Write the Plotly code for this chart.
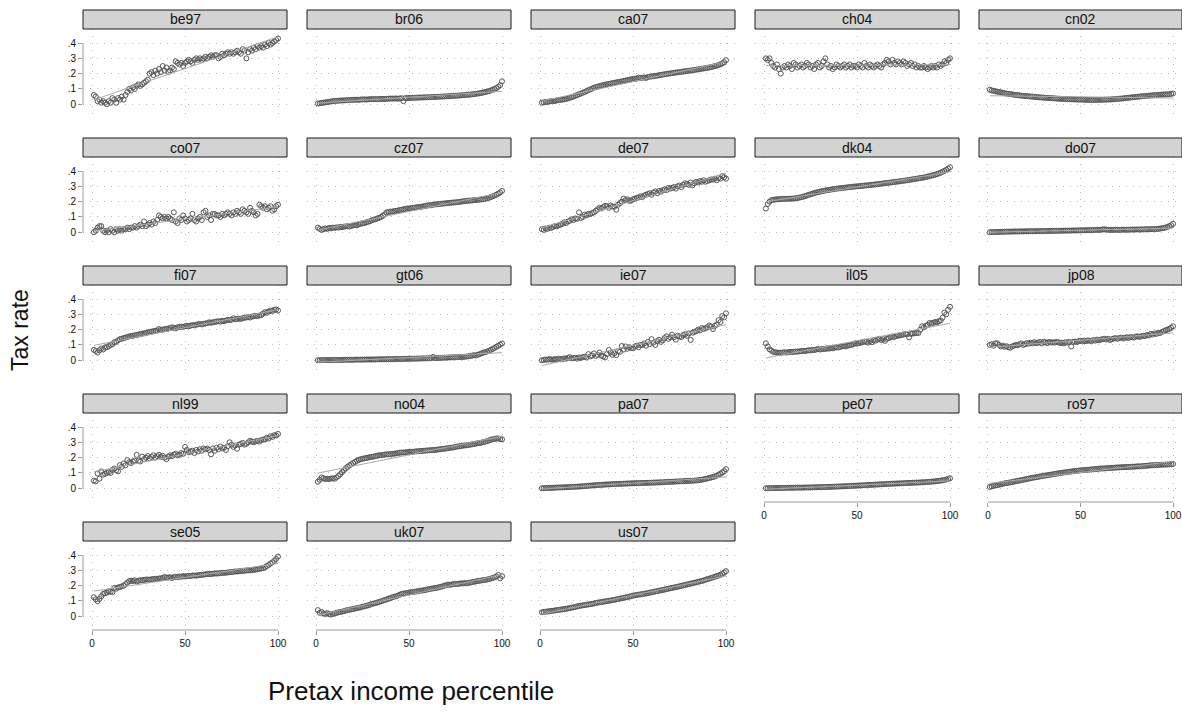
"""Tax rate by pretax income percentile, one small panel per country-year (Stata-style by() graph)."""

import numpy as np
import plotly.graph_objects as go

W, H = 1182, 723

# x values: pretax income percentile
PCTL = list(range(1, 101))

PANELS = ["be97", "br06", "ca07", "ch04", "cn02",
          "co07", "cz07", "de07", "dk04", "do07",
          "fi07", "gt06", "ie07", "il05", "jp08",
          "nl99", "no04", "pa07", "pe07", "ro97",
          "se05", "uk07", "us07"]

Y_TICKS = [0, 0.1, 0.2, 0.3, 0.4]
Y_TICK_TEXT = ["0", ".1", ".2", ".3", ".4"]
X_TICKS = [0, 50, 100]

# tax rate at each percentile
be97 = [0.06, 0.05, 0.02, 0.03, 0.01, 0.02, 0.01, 0.00, 0.02, 0.01,
        0.04, 0.03, 0.01, 0.04, 0.03, 0.05, 0.03, 0.06, 0.08, 0.10,
        0.09, 0.11, 0.10, 0.12, 0.13, 0.12, 0.13, 0.14, 0.15, 0.16,
        0.20, 0.21, 0.19, 0.22, 0.20, 0.23, 0.21, 0.25, 0.22, 0.24,
        0.21, 0.22, 0.24, 0.23, 0.28, 0.27, 0.26, 0.27, 0.25, 0.27,
        0.28, 0.29, 0.28, 0.27, 0.29, 0.30, 0.29, 0.30, 0.29, 0.30,
        0.31, 0.30, 0.31, 0.32, 0.31, 0.32, 0.32, 0.30, 0.31, 0.33,
        0.32, 0.33, 0.34, 0.33, 0.34, 0.33, 0.34, 0.35, 0.34, 0.33,
        0.36, 0.35, 0.30, 0.34, 0.36, 0.35, 0.37, 0.36, 0.38, 0.37,
        0.38, 0.37, 0.39, 0.38, 0.40, 0.39, 0.40, 0.41, 0.42, 0.43]

br06 = [0.005, 0.006, 0.008, 0.010, 0.012, 0.014, 0.016, 0.018, 0.020, 0.021,
        0.022, 0.023, 0.024, 0.025, 0.025, 0.026, 0.027, 0.027, 0.028, 0.029,
        0.029, 0.030, 0.028, 0.031, 0.031, 0.032, 0.030, 0.032, 0.033, 0.033,
        0.033, 0.034, 0.032, 0.034, 0.035, 0.035, 0.033, 0.036, 0.036, 0.037,
        0.037, 0.037, 0.038, 0.036, 0.038, 0.039, 0.020, 0.040, 0.040, 0.041,
        0.041, 0.042, 0.042, 0.043, 0.043, 0.044, 0.044, 0.045, 0.045, 0.046,
        0.046, 0.047, 0.047, 0.048, 0.048, 0.049, 0.050, 0.050, 0.051, 0.052,
        0.052, 0.053, 0.054, 0.055, 0.055, 0.056, 0.057, 0.058, 0.059, 0.060,
        0.061, 0.062, 0.063, 0.065, 0.066, 0.068, 0.070, 0.072, 0.074, 0.077,
        0.080, 0.083, 0.086, 0.090, 0.095, 0.100, 0.106, 0.114, 0.125, 0.150]

ca07 = [0.010, 0.012, 0.015, 0.014, 0.018, 0.020, 0.022, 0.021, 0.025, 0.027,
        0.028, 0.030, 0.032, 0.035, 0.038, 0.042, 0.046, 0.050, 0.055, 0.060,
        0.065, 0.070, 0.075, 0.080, 0.086, 0.092, 0.097, 0.102, 0.108, 0.112,
        0.115, 0.118, 0.122, 0.125, 0.128, 0.130, 0.133, 0.135, 0.138, 0.140,
        0.143, 0.145, 0.147, 0.150, 0.152, 0.155, 0.158, 0.160, 0.163, 0.165,
        0.166, 0.168, 0.174, 0.172, 0.173, 0.175, 0.172, 0.178, 0.180, 0.182,
        0.183, 0.185, 0.187, 0.190, 0.192, 0.194, 0.196, 0.198, 0.200, 0.201,
        0.203, 0.205, 0.207, 0.209, 0.210, 0.212, 0.214, 0.215, 0.217, 0.219,
        0.220, 0.222, 0.224, 0.226, 0.228, 0.230, 0.232, 0.234, 0.236, 0.238,
        0.240, 0.243, 0.246, 0.249, 0.252, 0.256, 0.261, 0.267, 0.275, 0.288]

ch04 = [0.30, 0.29, 0.30, 0.27, 0.25, 0.24, 0.26, 0.23, 0.20, 0.24,
        0.25, 0.24, 0.26, 0.25, 0.23, 0.27, 0.26, 0.24, 0.25, 0.26,
        0.24, 0.25, 0.27, 0.26, 0.24, 0.25, 0.23, 0.26, 0.27, 0.24,
        0.25, 0.28, 0.30, 0.26, 0.24, 0.25, 0.23, 0.24, 0.26, 0.25,
        0.24, 0.25, 0.26, 0.24, 0.25, 0.26, 0.24, 0.25, 0.25, 0.24,
        0.26, 0.25, 0.24, 0.27, 0.25, 0.24, 0.26, 0.25, 0.24, 0.25,
        0.26, 0.25, 0.24, 0.26, 0.27, 0.29, 0.28, 0.26, 0.29, 0.27,
        0.26, 0.28, 0.27, 0.26, 0.28, 0.27, 0.25, 0.26, 0.27, 0.25,
        0.26, 0.24, 0.25, 0.24, 0.24, 0.25, 0.24, 0.23, 0.24, 0.25,
        0.24, 0.25, 0.24, 0.26, 0.25, 0.26, 0.28, 0.27, 0.29, 0.30]

cn02 = [0.095, 0.090, 0.088, 0.085, 0.082, 0.080, 0.078, 0.075, 0.072, 0.070,
        0.068, 0.066, 0.065, 0.062, 0.060, 0.060, 0.058, 0.056, 0.055, 0.054,
        0.053, 0.052, 0.050, 0.050, 0.048, 0.047, 0.046, 0.045, 0.044, 0.043,
        0.042, 0.041, 0.040, 0.040, 0.039, 0.038, 0.037, 0.036, 0.036, 0.035,
        0.034, 0.034, 0.033, 0.033, 0.032, 0.032, 0.031, 0.031, 0.030, 0.030,
        0.030, 0.029, 0.029, 0.029, 0.028, 0.028, 0.028, 0.028, 0.028, 0.029,
        0.029, 0.029, 0.030, 0.030, 0.031, 0.031, 0.032, 0.033, 0.034, 0.035,
        0.036, 0.037, 0.038, 0.040, 0.041, 0.042, 0.044, 0.045, 0.046, 0.048,
        0.049, 0.050, 0.052, 0.053, 0.054, 0.055, 0.056, 0.057, 0.058, 0.059,
        0.060, 0.061, 0.062, 0.063, 0.064, 0.064, 0.065, 0.066, 0.068, 0.070]

co07 = [0.00, 0.01, 0.03, 0.04, 0.04, 0.01, 0.00, 0.01, 0.00, 0.02,
        0.01, 0.00, 0.02, 0.01, 0.02, 0.01, 0.02, 0.02, 0.03, 0.02,
        0.03, 0.03, 0.04, 0.03, 0.04, 0.05, 0.04, 0.07, 0.04, 0.05,
        0.06, 0.05, 0.07, 0.06, 0.08, 0.11, 0.10, 0.09, 0.10, 0.09,
        0.10, 0.09, 0.08, 0.13, 0.07, 0.06, 0.09, 0.08, 0.11, 0.09,
        0.07, 0.08, 0.09, 0.12, 0.08, 0.07, 0.09, 0.10, 0.08, 0.13,
        0.14, 0.10, 0.11, 0.08, 0.12, 0.12, 0.11, 0.11, 0.10, 0.12,
        0.11, 0.12, 0.13, 0.12, 0.11, 0.13, 0.12, 0.14, 0.13, 0.12,
        0.15, 0.14, 0.13, 0.12, 0.16, 0.14, 0.13, 0.11, 0.12, 0.18,
        0.17, 0.16, 0.17, 0.15, 0.16, 0.17, 0.14, 0.15, 0.17, 0.18]

cz07 = [0.030, 0.022, 0.015, 0.020, 0.025, 0.022, 0.028, 0.025, 0.030, 0.028,
        0.032, 0.030, 0.035, 0.033, 0.036, 0.038, 0.040, 0.037, 0.042, 0.045,
        0.047, 0.045, 0.052, 0.055, 0.058, 0.060, 0.065, 0.068, 0.072, 0.078,
        0.082, 0.085, 0.090, 0.095, 0.100, 0.108, 0.118, 0.130, 0.132, 0.135,
        0.135, 0.138, 0.140, 0.142, 0.145, 0.147, 0.150, 0.152, 0.155, 0.155,
        0.158, 0.160, 0.160, 0.163, 0.165, 0.165, 0.168, 0.170, 0.172, 0.175,
        0.176, 0.177, 0.180, 0.182, 0.183, 0.185, 0.185, 0.187, 0.188, 0.190,
        0.191, 0.192, 0.193, 0.195, 0.195, 0.197, 0.198, 0.200, 0.202, 0.204,
        0.205, 0.206, 0.207, 0.208, 0.210, 0.210, 0.212, 0.213, 0.215, 0.216,
        0.218, 0.222, 0.225, 0.230, 0.235, 0.240, 0.245, 0.252, 0.260, 0.270]

de07 = [0.020, 0.015, 0.025, 0.022, 0.030, 0.028, 0.035, 0.040, 0.038, 0.045,
        0.050, 0.055, 0.065, 0.060, 0.070, 0.075, 0.085, 0.080, 0.090, 0.088,
        0.130, 0.093, 0.100, 0.115, 0.110, 0.120, 0.118, 0.125, 0.130, 0.140,
        0.150, 0.160, 0.155, 0.165, 0.173, 0.170, 0.160, 0.175, 0.168, 0.167,
        0.147, 0.180, 0.190, 0.200, 0.220, 0.210, 0.215, 0.205, 0.207, 0.215,
        0.220, 0.225, 0.227, 0.235, 0.230, 0.240, 0.245, 0.250, 0.255, 0.245,
        0.260, 0.267, 0.255, 0.270, 0.265, 0.275, 0.280, 0.275, 0.290, 0.285,
        0.290, 0.295, 0.285, 0.300, 0.305, 0.295, 0.310, 0.320, 0.315, 0.310,
        0.325, 0.307, 0.320, 0.330, 0.325, 0.335, 0.330, 0.340, 0.330, 0.335,
        0.340, 0.345, 0.344, 0.350, 0.340, 0.355, 0.350, 0.367, 0.360, 0.350]

dk04 = [0.155, 0.185, 0.200, 0.210, 0.212, 0.214, 0.215, 0.216, 0.217, 0.218,
        0.218, 0.218, 0.219, 0.219, 0.220, 0.220, 0.222, 0.224, 0.226, 0.229,
        0.232, 0.236, 0.240, 0.244, 0.248, 0.252, 0.256, 0.259, 0.262, 0.265,
        0.268, 0.270, 0.273, 0.275, 0.277, 0.279, 0.281, 0.283, 0.285, 0.286,
        0.288, 0.289, 0.291, 0.292, 0.294, 0.295, 0.296, 0.298, 0.299, 0.300,
        0.301, 0.302, 0.303, 0.305, 0.306, 0.307, 0.309, 0.310, 0.311, 0.313,
        0.314, 0.316, 0.317, 0.319, 0.320, 0.322, 0.323, 0.325, 0.327, 0.328,
        0.330, 0.331, 0.333, 0.335, 0.336, 0.338, 0.340, 0.342, 0.344, 0.346,
        0.348, 0.350, 0.352, 0.354, 0.356, 0.358, 0.361, 0.364, 0.367, 0.370,
        0.373, 0.376, 0.380, 0.384, 0.389, 0.395, 0.401, 0.408, 0.416, 0.425]

do07 = [0.000, 0.001, 0.001, 0.002, 0.002, 0.002, 0.003, 0.003, 0.003, 0.004,
        0.004, 0.004, 0.004, 0.005, 0.005, 0.005, 0.005, 0.006, 0.005, 0.006,
        0.006, 0.006, 0.007, 0.006, 0.007, 0.007, 0.007, 0.008, 0.007, 0.008,
        0.008, 0.008, 0.009, 0.008, 0.009, 0.009, 0.010, 0.009, 0.010, 0.010,
        0.010, 0.011, 0.010, 0.011, 0.011, 0.012, 0.011, 0.012, 0.012, 0.013,
        0.012, 0.013, 0.013, 0.014, 0.013, 0.014, 0.014, 0.015, 0.016, 0.015,
        0.016, 0.018, 0.020, 0.017, 0.016, 0.015, 0.016, 0.015, 0.016, 0.016,
        0.015, 0.016, 0.017, 0.016, 0.017, 0.016, 0.017, 0.018, 0.017, 0.018,
        0.018, 0.017, 0.019, 0.018, 0.019, 0.020, 0.019, 0.020, 0.021, 0.020,
        0.021, 0.022, 0.024, 0.026, 0.028, 0.031, 0.035, 0.040, 0.046, 0.055]

fi07 = [0.068, 0.060, 0.050, 0.065, 0.077, 0.070, 0.083, 0.085, 0.092, 0.100,
        0.105, 0.118, 0.120, 0.130, 0.138, 0.140, 0.145, 0.148, 0.152, 0.156,
        0.158, 0.160, 0.163, 0.165, 0.168, 0.171, 0.174, 0.176, 0.178, 0.182,
        0.185, 0.187, 0.190, 0.192, 0.195, 0.204, 0.198, 0.200, 0.203, 0.205,
        0.207, 0.210, 0.215, 0.212, 0.208, 0.215, 0.218, 0.220, 0.218, 0.222,
        0.225, 0.222, 0.226, 0.230, 0.228, 0.232, 0.235, 0.237, 0.234, 0.238,
        0.240, 0.243, 0.248, 0.245, 0.248, 0.250, 0.253, 0.255, 0.252, 0.258,
        0.255, 0.260, 0.264, 0.262, 0.265, 0.275, 0.268, 0.270, 0.272, 0.270,
        0.275, 0.278, 0.279, 0.282, 0.279, 0.285, 0.288, 0.290, 0.289, 0.292,
        0.295, 0.305, 0.314, 0.310, 0.318, 0.325, 0.322, 0.330, 0.332, 0.325]

gt06 = [0.000, 0.000, 0.000, 0.001, 0.001, 0.001, 0.001, 0.001, 0.002, 0.002,
        0.002, 0.002, 0.002, 0.002, 0.003, 0.003, 0.003, 0.003, 0.003, 0.003,
        0.004, 0.004, 0.004, 0.004, 0.004, 0.004, 0.005, 0.005, 0.005, 0.005,
        0.005, 0.005, 0.006, 0.006, 0.006, 0.006, 0.006, 0.007, 0.007, 0.007,
        0.007, 0.007, 0.008, 0.008, 0.008, 0.008, 0.009, 0.009, 0.009, 0.010,
        0.010, 0.010, 0.010, 0.011, 0.011, 0.011, 0.012, 0.012, 0.012, 0.013,
        0.013, 0.014, 0.022, 0.014, 0.015, 0.015, 0.016, 0.016, 0.017, 0.017,
        0.018, 0.018, 0.019, 0.019, 0.020, 0.020, 0.021, 0.021, 0.022, 0.023,
        0.024, 0.026, 0.028, 0.030, 0.033, 0.031, 0.036, 0.040, 0.045, 0.050,
        0.053, 0.057, 0.062, 0.068, 0.074, 0.080, 0.088, 0.095, 0.102, 0.110]

ie07 = [0.000, 0.002, 0.005, 0.003, 0.008, 0.005, 0.004, 0.007, 0.005, 0.010,
        0.006, 0.008, 0.012, 0.010, 0.015, 0.020, 0.012, 0.014, 0.016, 0.010,
        0.018, 0.015, 0.020, 0.022, 0.018, 0.040, 0.025, 0.030, 0.045, 0.028,
        0.035, 0.050, 0.030, 0.025, 0.018, 0.040, 0.067, 0.050, 0.035, 0.045,
        0.033, 0.060, 0.055, 0.093, 0.070, 0.090, 0.075, 0.085, 0.080, 0.078,
        0.090, 0.095, 0.085, 0.100, 0.100, 0.110, 0.095, 0.120, 0.105, 0.138,
        0.115, 0.100, 0.125, 0.133, 0.120, 0.130, 0.145, 0.156, 0.140, 0.150,
        0.167, 0.150, 0.135, 0.160, 0.155, 0.151, 0.165, 0.170, 0.160, 0.175,
        0.133, 0.180, 0.185, 0.190, 0.200, 0.195, 0.210, 0.205, 0.210, 0.215,
        0.227, 0.220, 0.204, 0.225, 0.233, 0.262, 0.250, 0.289, 0.280, 0.307]

il05 = [0.111, 0.090, 0.071, 0.062, 0.055, 0.052, 0.050, 0.049, 0.049, 0.050,
        0.052, 0.050, 0.053, 0.055, 0.054, 0.055, 0.057, 0.056, 0.058, 0.060,
        0.062, 0.060, 0.063, 0.065, 0.064, 0.068, 0.066, 0.070, 0.073, 0.070,
        0.072, 0.075, 0.073, 0.078, 0.076, 0.080, 0.078, 0.082, 0.085, 0.083,
        0.088, 0.090, 0.093, 0.090, 0.095, 0.098, 0.100, 0.105, 0.111, 0.108,
        0.112, 0.115, 0.118, 0.122, 0.120, 0.115, 0.125, 0.118, 0.130, 0.128,
        0.135, 0.140, 0.132, 0.138, 0.127, 0.140, 0.145, 0.150, 0.155, 0.152,
        0.158, 0.160, 0.162, 0.165, 0.168, 0.173, 0.170, 0.150, 0.172, 0.175,
        0.176, 0.178, 0.178, 0.200, 0.222, 0.215, 0.225, 0.230, 0.244, 0.240,
        0.245, 0.250, 0.248, 0.255, 0.260, 0.278, 0.311, 0.300, 0.330, 0.349]

jp08 = [0.100, 0.105, 0.095, 0.110, 0.111, 0.100, 0.090, 0.095, 0.088, 0.092,
        0.085, 0.082, 0.090, 0.095, 0.100, 0.098, 0.105, 0.110, 0.100, 0.105,
        0.112, 0.108, 0.115, 0.110, 0.118, 0.112, 0.115, 0.120, 0.110, 0.120,
        0.118, 0.112, 0.120, 0.115, 0.118, 0.115, 0.120, 0.118, 0.112, 0.115,
        0.110, 0.118, 0.115, 0.120, 0.090, 0.120, 0.122, 0.118, 0.125, 0.127,
        0.123, 0.128, 0.125, 0.130, 0.127, 0.125, 0.132, 0.128, 0.135, 0.130,
        0.135, 0.138, 0.140, 0.135, 0.140, 0.132, 0.138, 0.142, 0.145, 0.140,
        0.145, 0.148, 0.142, 0.147, 0.150, 0.145, 0.152, 0.150, 0.148, 0.155,
        0.156, 0.152, 0.158, 0.160, 0.158, 0.165, 0.162, 0.173, 0.168, 0.175,
        0.172, 0.180, 0.178, 0.185, 0.190, 0.196, 0.200, 0.205, 0.212, 0.222]

nl99 = [0.050, 0.045, 0.096, 0.062, 0.110, 0.089, 0.095, 0.100, 0.105, 0.100,
        0.120, 0.129, 0.118, 0.110, 0.151, 0.140, 0.162, 0.150, 0.184, 0.170,
        0.165, 0.175, 0.180, 0.218, 0.180, 0.175, 0.207, 0.190, 0.200, 0.210,
        0.195, 0.205, 0.215, 0.200, 0.210, 0.218, 0.205, 0.212, 0.200, 0.190,
        0.207, 0.215, 0.210, 0.220, 0.225, 0.215, 0.220, 0.230, 0.225, 0.270,
        0.250, 0.235, 0.240, 0.245, 0.230, 0.250, 0.240, 0.255, 0.245, 0.260,
        0.255, 0.260, 0.250, 0.222, 0.260, 0.245, 0.265, 0.255, 0.273, 0.260,
        0.265, 0.250, 0.275, 0.300, 0.284, 0.270, 0.280, 0.258, 0.285, 0.290,
        0.296, 0.285, 0.290, 0.300, 0.310, 0.305, 0.300, 0.307, 0.310, 0.305,
        0.315, 0.318, 0.320, 0.330, 0.325, 0.340, 0.335, 0.347, 0.345, 0.355]

no04 = [0.042, 0.055, 0.070, 0.065, 0.060, 0.062, 0.060, 0.063, 0.065, 0.062,
        0.070, 0.080, 0.092, 0.105, 0.118, 0.130, 0.140, 0.150, 0.157, 0.165,
        0.172, 0.180, 0.185, 0.190, 0.193, 0.195, 0.198, 0.200, 0.203, 0.205,
        0.207, 0.210, 0.212, 0.216, 0.215, 0.218, 0.220, 0.222, 0.221, 0.223,
        0.225, 0.226, 0.228, 0.230, 0.232, 0.234, 0.233, 0.235, 0.236, 0.237,
        0.238, 0.238, 0.240, 0.241, 0.242, 0.243, 0.244, 0.245, 0.246, 0.247,
        0.248, 0.249, 0.250, 0.250, 0.252, 0.254, 0.255, 0.257, 0.258, 0.260,
        0.262, 0.264, 0.265, 0.267, 0.270, 0.273, 0.274, 0.276, 0.278, 0.280,
        0.281, 0.282, 0.285, 0.287, 0.289, 0.292, 0.294, 0.295, 0.298, 0.302,
        0.305, 0.308, 0.312, 0.317, 0.320, 0.322, 0.325, 0.326, 0.322, 0.320]

pa07 = [0.000, 0.001, 0.001, 0.002, 0.002, 0.003, 0.003, 0.004, 0.004, 0.005,
        0.005, 0.006, 0.006, 0.007, 0.007, 0.008, 0.008, 0.009, 0.010, 0.010,
        0.011, 0.012, 0.013, 0.014, 0.015, 0.016, 0.017, 0.018, 0.019, 0.020,
        0.021, 0.022, 0.022, 0.023, 0.024, 0.025, 0.025, 0.026, 0.027, 0.027,
        0.028, 0.028, 0.029, 0.029, 0.030, 0.030, 0.031, 0.031, 0.032, 0.032,
        0.033, 0.033, 0.033, 0.034, 0.034, 0.035, 0.035, 0.035, 0.036, 0.036,
        0.037, 0.037, 0.038, 0.038, 0.039, 0.039, 0.040, 0.041, 0.041, 0.042,
        0.042, 0.043, 0.044, 0.044, 0.045, 0.045, 0.046, 0.047, 0.047, 0.048,
        0.049, 0.049, 0.050, 0.051, 0.052, 0.054, 0.056, 0.058, 0.061, 0.064,
        0.067, 0.070, 0.073, 0.077, 0.082, 0.088, 0.095, 0.103, 0.112, 0.125]

pe07 = [0.000, 0.000, 0.001, 0.001, 0.001, 0.001, 0.002, 0.002, 0.002, 0.002,
        0.002, 0.003, 0.003, 0.003, 0.003, 0.003, 0.004, 0.004, 0.004, 0.004,
        0.004, 0.005, 0.005, 0.005, 0.005, 0.006, 0.006, 0.006, 0.007, 0.007,
        0.007, 0.008, 0.008, 0.008, 0.009, 0.009, 0.010, 0.010, 0.011, 0.011,
        0.012, 0.012, 0.013, 0.013, 0.014, 0.014, 0.015, 0.016, 0.016, 0.017,
        0.018, 0.018, 0.019, 0.020, 0.020, 0.021, 0.022, 0.022, 0.023, 0.024,
        0.024, 0.025, 0.026, 0.026, 0.027, 0.028, 0.028, 0.029, 0.030, 0.030,
        0.031, 0.031, 0.032, 0.032, 0.033, 0.034, 0.034, 0.035, 0.035, 0.036,
        0.036, 0.037, 0.037, 0.038, 0.039, 0.039, 0.040, 0.041, 0.042, 0.043,
        0.044, 0.045, 0.047, 0.048, 0.050, 0.052, 0.054, 0.057, 0.060, 0.065]

ro97 = [0.009, 0.012, 0.015, 0.018, 0.020, 0.023, 0.026, 0.029, 0.032, 0.034,
        0.036, 0.038, 0.040, 0.043, 0.046, 0.048, 0.050, 0.053, 0.055, 0.058,
        0.060, 0.063, 0.065, 0.068, 0.070, 0.072, 0.074, 0.077, 0.079, 0.081,
        0.083, 0.085, 0.087, 0.089, 0.091, 0.093, 0.095, 0.097, 0.099, 0.101,
        0.103, 0.104, 0.106, 0.108, 0.109, 0.111, 0.112, 0.114, 0.115, 0.117,
        0.118, 0.119, 0.120, 0.121, 0.122, 0.123, 0.124, 0.125, 0.126, 0.128,
        0.129, 0.129, 0.130, 0.131, 0.132, 0.132, 0.133, 0.134, 0.135, 0.136,
        0.136, 0.137, 0.138, 0.138, 0.139, 0.139, 0.140, 0.141, 0.141, 0.142,
        0.143, 0.143, 0.144, 0.145, 0.146, 0.147, 0.148, 0.150, 0.150, 0.151,
        0.152, 0.152, 0.153, 0.154, 0.154, 0.155, 0.155, 0.156, 0.157, 0.158]

se05 = [0.124, 0.110, 0.098, 0.113, 0.130, 0.146, 0.150, 0.155, 0.163, 0.160,
        0.157, 0.185, 0.180, 0.188, 0.191, 0.195, 0.200, 0.209, 0.220, 0.230,
        0.232, 0.230, 0.235, 0.228, 0.232, 0.236, 0.235, 0.238, 0.240, 0.240,
        0.238, 0.242, 0.243, 0.245, 0.242, 0.247, 0.248, 0.250, 0.257, 0.252,
        0.253, 0.255, 0.250, 0.256, 0.258, 0.255, 0.260, 0.258, 0.262, 0.260,
        0.262, 0.264, 0.263, 0.266, 0.267, 0.265, 0.268, 0.270, 0.270, 0.272,
        0.274, 0.278, 0.275, 0.276, 0.278, 0.280, 0.279, 0.280, 0.282, 0.284,
        0.283, 0.285, 0.286, 0.288, 0.289, 0.290, 0.293, 0.292, 0.294, 0.295,
        0.296, 0.298, 0.299, 0.300, 0.300, 0.302, 0.303, 0.305, 0.307, 0.310,
        0.312, 0.315, 0.320, 0.328, 0.335, 0.345, 0.352, 0.362, 0.375, 0.390]

uk07 = [0.040, 0.022, 0.028, 0.018, 0.015, 0.020, 0.014, 0.011, 0.015, 0.018,
        0.022, 0.025, 0.028, 0.030, 0.033, 0.037, 0.040, 0.042, 0.045, 0.048,
        0.050, 0.053, 0.055, 0.058, 0.062, 0.065, 0.068, 0.071, 0.075, 0.080,
        0.083, 0.086, 0.090, 0.093, 0.098, 0.102, 0.106, 0.110, 0.115, 0.118,
        0.124, 0.128, 0.130, 0.135, 0.140, 0.146, 0.148, 0.150, 0.152, 0.155,
        0.157, 0.158, 0.160, 0.162, 0.164, 0.167, 0.168, 0.170, 0.172, 0.175,
        0.178, 0.180, 0.182, 0.184, 0.186, 0.189, 0.192, 0.195, 0.200, 0.203,
        0.207, 0.205, 0.208, 0.210, 0.212, 0.210, 0.213, 0.215, 0.214, 0.217,
        0.215, 0.218, 0.220, 0.223, 0.225, 0.228, 0.230, 0.232, 0.234, 0.237,
        0.237, 0.240, 0.243, 0.246, 0.250, 0.254, 0.260, 0.270, 0.248, 0.262]

us07 = [0.026, 0.028, 0.030, 0.031, 0.033, 0.035, 0.036, 0.038, 0.040, 0.041,
        0.043, 0.045, 0.047, 0.049, 0.051, 0.053, 0.056, 0.058, 0.060, 0.065,
        0.067, 0.069, 0.071, 0.073, 0.075, 0.077, 0.079, 0.081, 0.083, 0.087,
        0.089, 0.091, 0.093, 0.095, 0.097, 0.099, 0.101, 0.103, 0.105, 0.107,
        0.110, 0.112, 0.115, 0.118, 0.120, 0.123, 0.125, 0.128, 0.131, 0.135,
        0.137, 0.139, 0.141, 0.143, 0.145, 0.147, 0.149, 0.151, 0.154, 0.157,
        0.159, 0.162, 0.164, 0.167, 0.169, 0.172, 0.174, 0.177, 0.180, 0.183,
        0.185, 0.188, 0.190, 0.193, 0.196, 0.199, 0.201, 0.204, 0.207, 0.210,
        0.213, 0.216, 0.219, 0.222, 0.225, 0.228, 0.231, 0.234, 0.238, 0.243,
        0.246, 0.250, 0.254, 0.258, 0.262, 0.266, 0.271, 0.277, 0.285, 0.295]

SERIES = {"be97": be97, "br06": br06, "ca07": ca07, "ch04": ch04, "cn02": cn02,
          "co07": co07, "cz07": cz07, "de07": de07, "dk04": dk04, "do07": do07,
          "fi07": fi07, "gt06": gt06, "ie07": ie07, "il05": il05, "jp08": jp08,
          "nl99": nl99, "no04": no04, "pa07": pa07, "pe07": pe07, "ro97": ro97,
          "se05": se05, "uk07": uk07, "us07": us07}

# Stata-ish s1mono look
FONT = "Liberation Sans, Arial, sans-serif"
MARKER_GRAY = '#565656'
FIT_GRAY = '#a9a9a9'
GRID_GRAY = '#b9b9b9'
AXIS_GRAY = '#9a9a9a'
STRIP_FILL = '#d3d3d3'

# panel geometry (pixels)
COL_LEFT = [83, 307, 531, 755, 979]
PANEL_W = 204
STRIP_TOP = [10 + 128 * r for r in range(5)]
STRIP_H = 19
PLOT_H = 89
X_RANGE = [-4.84, 104.84]
Y_RANGE = [-0.09, 0.4918]

fig = go.Figure()
layout = {}
shapes = []
annotations = []

for i, name in enumerate(PANELS):
    assert len(SERIES[name]) == 100, name
    row, col = divmod(i, 5)
    n = "" if i == 0 else str(i + 1)
    xa, ya = "x" + n, "y" + n
    vals = SERIES[name]

    fig.add_trace(go.Scatter(
        x=PCTL, y=vals, mode='markers', xaxis=xa, yaxis=ya,
        marker=dict(symbol='circle-open', size=5, color=MARKER_GRAY,
                    line=dict(width=1, color=MARKER_GRAY)),
        hovertemplate=name + ' p%{x}: %{y:.3f}<extra></extra>',
    ))

    # linear fit (lfit)
    slope, icpt = np.polyfit(PCTL, vals, 1)
    fig.add_trace(go.Scatter(
        x=PCTL, y=[slope * p + icpt for p in PCTL], mode='lines',
        xaxis=xa, yaxis=ya, line=dict(color=FIT_GRAY, width=1),
        hoverinfo='skip',
    ))

    top = STRIP_TOP[row] + STRIP_H
    bottom = top + PLOT_H
    left = COL_LEFT[col]
    show_x = row == 4 or (row == 3 and col >= 3)
    show_y = col == 0

    layout["xaxis" + n] = dict(
        domain=[left / W, min(left + PANEL_W, W) / W], anchor=ya,
        range=X_RANGE, tickvals=X_TICKS, showticklabels=show_x,
        ticks='outside' if show_x else '', ticklen=4, tickwidth=1, tickcolor=AXIS_GRAY,
        tickfont=dict(size=10, color='#111', family=FONT),
        showgrid=True, gridcolor=GRID_GRAY, gridwidth=1, griddash='1px,6px',
        zeroline=False, showline=False, fixedrange=True,
    )
    layout["yaxis" + n] = dict(
        domain=[1 - bottom / H, 1 - top / H], anchor=xa,
        range=Y_RANGE, tickvals=Y_TICKS, ticktext=Y_TICK_TEXT, showticklabels=show_y,
        ticks='outside' if show_y else '', ticklen=4, tickwidth=1, tickcolor=AXIS_GRAY,
        tickfont=dict(size=10, color='#111', family=FONT),
        showgrid=True, gridcolor=GRID_GRAY, gridwidth=1, griddash='1px,6px',
        zeroline=False, showline=False, fixedrange=True,
    )

    # strip header
    shapes.append(dict(type='rect', xref=xa + ' domain', yref=ya + ' domain',
                       x0=0, x1=1, y0=1, y1=1 + STRIP_H / PLOT_H,
                       fillcolor=STRIP_FILL, line=dict(color='#1a1a1a', width=1)))
    annotations.append(dict(text=name, xref=xa + ' domain', yref=ya + ' domain',
                            x=0.5, y=1 + STRIP_H / PLOT_H / 2, showarrow=False,
                            xanchor='center', yanchor='middle',
                            font=dict(size=14, color='#111', family=FONT)))

    # axis lines only span the labelled range, like Stata
    if show_x:
        shapes.append(dict(type='line', xref=xa, yref=ya + ' domain',
                           x0=0, x1=100, y0=0, y1=0,
                           line=dict(color=AXIS_GRAY, width=1)))
    if show_y:
        shapes.append(dict(type='line', xref=xa + ' domain', yref=ya,
                           x0=0, x1=0, y0=0, y1=0.4,
                           line=dict(color=AXIS_GRAY, width=1)))

annotations.append(dict(text='Tax rate', xref='paper', yref='paper',
                        x=20 / W, y=1 - 330 / H, textangle=-90, showarrow=False,
                        xanchor='center', yanchor='middle',
                        font=dict(size=23, color='#111', family=FONT)))
annotations.append(dict(text='Pretax income percentile', xref='paper', yref='paper',
                        x=411 / W, y=1 - 691 / H, showarrow=False,
                        xanchor='center', yanchor='middle',
                        font=dict(size=26, color='#111', family=FONT)))

fig.update_layout(
    **layout,
    shapes=shapes,
    annotations=annotations,
    width=W, height=H,
    margin=dict(l=0, r=0, t=0, b=0),
    paper_bgcolor='white', plot_bgcolor='white',
    showlegend=False,
    font=dict(family=FONT),
)

fig.write_html("out.html", config={'displayModeBar': False},
               post_script="document.body.style.margin='0';")
